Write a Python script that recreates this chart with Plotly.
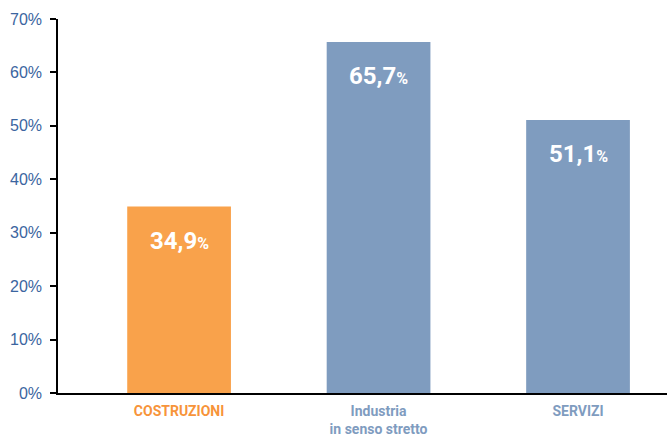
import plotly.graph_objects as go

categories = ["COSTRUZIONI", "Industria<br>in senso stretto", "SERVIZI"]
values = [34.9, 65.7, 51.1]
value_labels = ["34,9", "65,7", "51,1"]
bar_colors = ["#F9A24B", "#7F9CBF", "#7F9CBF"]
label_colors = ["#F7943A", "#7F9CBF", "#7F9CBF"]
y_ticks = [0, 10, 20, 30, 40, 50, 60, 70]

FONT = "Roboto, Arial, sans-serif"
AXFONT = "Liberation Sans, Arial, sans-serif"
x = list(range(len(categories)))

fig = go.Figure()
fig.add_trace(go.Bar(
    x=x, y=values, marker=dict(color=bar_colors, line=dict(width=0)),
    width=0.52, hoverinfo="skip",
))

for xi, v, lab in zip(x, values, value_labels):
    fig.add_annotation(
        x=xi, y=v, yshift=-34, showarrow=False,
        text=f"<b>{lab}<span style='font-size:16px'>%</span></b>",
        font=dict(family=FONT, size=24, color="white"),
    )

ticktext = [f"<b><span style='color:{c}'>{t}</span></b>" for t, c in zip(categories, label_colors)]

fig.update_layout(
    width=667, height=438,
    margin=dict(l=58, r=0, t=19, b=45),
    paper_bgcolor="white", plot_bgcolor="white",
    showlegend=False,
    font=dict(family=FONT),
    xaxis=dict(
        range=[-0.607, 2.446], tickvals=x, ticktext=ticktext,
        showgrid=False, zeroline=False, showline=True, linecolor="black", linewidth=1.5,
        ticks="", tickfont=dict(family=FONT, size=14, color="#7F9CBF"),
        ticklabelstandoff=4, automargin=False,
    ),
    yaxis=dict(
        range=[0, 70], tickvals=y_ticks, ticktext=[f"{t}%" for t in y_ticks],
        showgrid=False, zeroline=False, showline=True, linecolor="black", linewidth=1.5,
        ticks="outside", ticklen=6, tickcolor="black", tickwidth=1.5,
        tickfont=dict(family=AXFONT, size=16, color="#3B65A0"),
        ticklabelstandoff=5, automargin=False,
    ),
)

fig.write_html("out.html")
